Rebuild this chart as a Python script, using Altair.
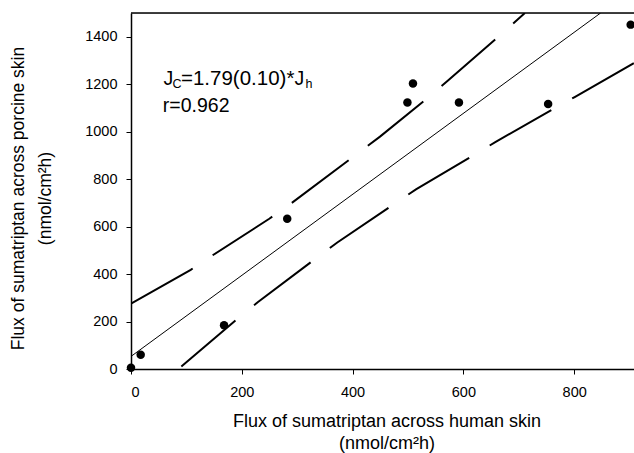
import altair as alt
import pandas as pd

# ---- data ----
human_flux = [0, 17.5, 168, 282, 499, 509, 592, 753, 902]
porcine_flux = [5, 60, 184, 633, 1123, 1203, 1123, 1117, 1451]

fit_x = [0, 847.7]
fit_y = [53, 1500]

upper_x = [0, 107.8, 142.6, 249.6, 285.7, 449.5, 536.6, 571.7, 679.2, 711]
upper_y = [275, 418, 472, 633, 692, 979, 1144, 1215, 1433, 1500]

lower_x = [85.4, 193.7, 228.7, 337, 372.4, 479.6, 514.4, 624, 657.6, 766.6, 800.9, 908]
lower_y = [0, 215, 281, 472, 533, 702, 757, 908, 956, 1101, 1146, 1289]

x_ticks = [0, 200, 400, 600, 800]
y_ticks = [0, 200, 400, 600, 800, 1000, 1200, 1400]
x_domain = [0, 908]
y_domain = [0, 1500]

x_title = ["Flux of sumatriptan across human skin", "(nmol/cm\u00b2h)"]
y_title = ["Flux of sumatriptan across porcine skin", "(nmol/cm\u00b2h)"]

FONT = "Liberation Sans"

points = pd.DataFrame({"x": human_flux, "y": porcine_flux})
fit = pd.DataFrame({"x": fit_x, "y": fit_y})
upper = pd.DataFrame({"x": upper_x, "y": upper_y})
lower = pd.DataFrame({"x": lower_x, "y": lower_y})
frame = pd.DataFrame({"x": [x_domain[0]], "x2": [x_domain[1]], "y": [y_domain[1]]})
anchor = pd.DataFrame({"x": [0], "y": [1200]})

xscale = alt.Scale(domain=x_domain, nice=False, zero=False)
yscale = alt.Scale(domain=y_domain, nice=False, zero=False)

xaxis = alt.Axis(
    values=x_ticks, format="d", grid=False,
    domainColor="black", domainWidth=1.5,
    tickColor="black", tickWidth=1, tickSize=5,
    labelColor="black", labelFont=FONT, labelFontSize=14.5, labelPadding=11,
    title=x_title, titleFont=FONT, titleFontSize=18, titleFontWeight="normal",
    titleColor="black", titleAlign="center", titleBaseline="alphabetic",
    titleX=255.5, titleY=57, titleLineHeight=22,
)
yaxis = alt.Axis(
    values=y_ticks, format="d", grid=False,
    domainColor="black", domainWidth=1.5,
    tickColor="black", tickWidth=1, tickSize=5,
    labelColor="black", labelFont=FONT, labelFontSize=14.5, labelPadding=9,
    title=y_title, titleFont=FONT, titleFontSize=17.5, titleFontWeight="normal",
    titleColor="black", titleAlign="center", titleBaseline="alphabetic",
    titleAngle=270, titleX=-108, titleY=185, titleLineHeight=27,
)

X = alt.X("x:Q", scale=xscale, axis=xaxis)
Y = alt.Y("y:Q", scale=yscale, axis=yaxis)

frame_layer = alt.Chart(frame).mark_rule(color="black", strokeWidth=1.5).encode(
    x=X, x2="x2:Q", y=Y
)

fit_layer = alt.Chart(fit).mark_line(color="black", strokeWidth=1, clip=True).encode(
    x=X, y=Y
)

upper_layer = alt.Chart(upper).mark_line(
    color="black", strokeWidth=2, strokeDash=[71, 24], clip=True
).encode(x=X, y=Y)

lower_layer = alt.Chart(lower).mark_line(
    color="black", strokeWidth=2, strokeDash=[71, 24], strokeDashOffset=-4, clip=True
).encode(x=X, y=Y)

point_layer = alt.Chart(points).mark_circle(size=72, color="black", opacity=1).encode(
    x=X, y=Y
)

# annotation pieces: text, font size, dx, dy
pieces = [
    ("J", 19.5, 32.5, 1),
    ("C", 12.5, 41.5, 3.8),
    ("=1.79(0.10)*", 20.5, 50, 1),
    ("J", 19.5, 163.5, 1),
    ("h", 12.5, 174.5, 4.2),
    ("r=0.962", 19.5, 31.8, 28),
]
text_layers = [
    alt.Chart(anchor).mark_text(
        text=t, font=FONT, fontSize=fs, color="black", align="left",
        baseline="alphabetic", dx=dx, dy=dy
    ).encode(x=X, y=Y)
    for (t, fs, dx, dy) in pieces
]

chart = alt.layer(
    frame_layer, fit_layer, upper_layer, lower_layer, point_layer, *text_layers
).properties(
    width=503, height=356,
    autosize=alt.AutoSizeParams(type="none"),
    padding={"left": 131, "top": 13, "right": 0, "bottom": 84},
).configure_view(stroke=None).configure(background="white")

chart.save("out.html", embed_options={"renderer": "svg", "actions": False})
